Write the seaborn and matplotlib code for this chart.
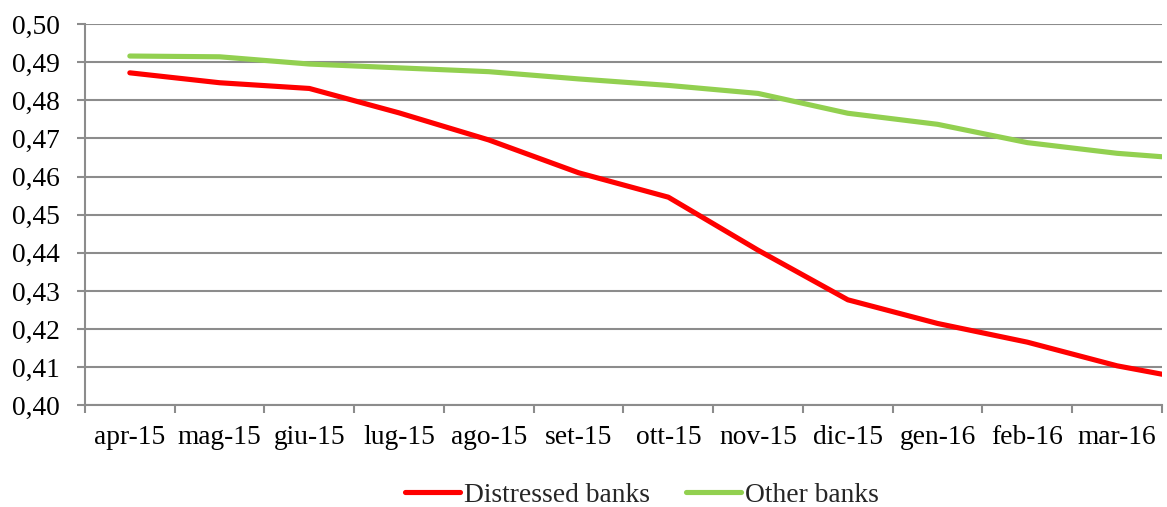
import matplotlib
matplotlib.use("Agg")
import matplotlib.pyplot as plt
from matplotlib.ticker import FixedLocator, FuncFormatter
import numpy as np
import pandas as pd
import seaborn as sns

# Monthly observations (the last month runs past the right edge of the axis)
months = ["apr-15", "mag-15", "giu-15", "lug-15", "ago-15", "set-15", "ott-15",
          "nov-15", "dic-15", "gen-16", "feb-16", "mar-16", "apr-16"]
distressed = [0.4872, 0.4846, 0.4831, 0.4767, 0.4696, 0.4610, 0.4546,
              0.4407, 0.4277, 0.4215, 0.4166, 0.4104, 0.4060]
other = [0.4916, 0.4914, 0.4895, 0.4885, 0.4875, 0.4856, 0.4839,
         0.4818, 0.4766, 0.4737, 0.4689, 0.4661, 0.4643]
series_names = ["Distressed banks", "Other banks"]
y_ticks = [0.40, 0.41, 0.42, 0.43, 0.44, 0.45, 0.46, 0.47, 0.48, 0.49, 0.50]

df = pd.DataFrame({
    "month": months * 2,
    "value": distressed + other,
    "series": [series_names[0]] * len(months) + [series_names[1]] * len(months),
})

sns.set_theme(style="white")
plt.rcParams["font.family"] = ["Liberation Serif", "DejaVu Serif"]

fig = plt.figure(figsize=(11.67, 5.07), dpi=100)
ax = fig.add_axes([0.0728, 0.2002, 0.9229, 0.7525])

grid_c = "#8c8c8c"
palette = {series_names[0]: "#ff0000", series_names[1]: "#92d050"}

sns.lineplot(data=df, x="month", y="value", hue="series", palette=palette,
             linewidth=3.7, sort=False, ax=ax, legend=True)

ax.set_xlim(-0.5, 11.5)
ax.set_ylim(0.40, 0.50)
ax.set_xlabel("")
ax.set_ylabel("")

# y axis: comma decimal labels, outward ticks, horizontal gridlines
ax.yaxis.set_major_locator(FixedLocator(y_ticks))
ax.yaxis.set_major_formatter(FuncFormatter(lambda v, p: f"{v:.2f}".replace(".", ",")))
ax.grid(axis="y", color=grid_c, linewidth=1.5)
ax.grid(axis="x", visible=False)
ax.set_axisbelow(True)

# x axis: labels at category centres, tick marks between categories
ax.set_xticks(range(12))
ax.set_xticklabels(months[:12])
ax.set_xticks(np.arange(-0.5, 12, 1.0), minor=True)
ax.tick_params(axis="x", which="major", length=0, pad=14, labelsize=19.8, colors="black")
ax.tick_params(axis="x", which="minor", length=6, width=1.5, color=grid_c, direction="out", bottom=True)
ax.tick_params(axis="y", which="major", length=6, width=1.5, color=grid_c, direction="out",
               left=True, pad=12, labelsize=19.8, labelcolor="black")

for side in ["top", "right"]:
    ax.spines[side].set_visible(False)
for side in ["left", "bottom"]:
    ax.spines[side].set_color(grid_c)
    ax.spines[side].set_linewidth(1.5)

handles, labels = ax.get_legend_handles_labels()
ax.legend_.remove()
fig.legend(handles, labels, loc="center", bbox_to_anchor=(0.55, 0.023), ncol=2,
           frameon=False, fontsize=19.8, handlelength=2.0, handletextpad=0.15,
           columnspacing=1.3)

fig.savefig("out.png", dpi=100)
